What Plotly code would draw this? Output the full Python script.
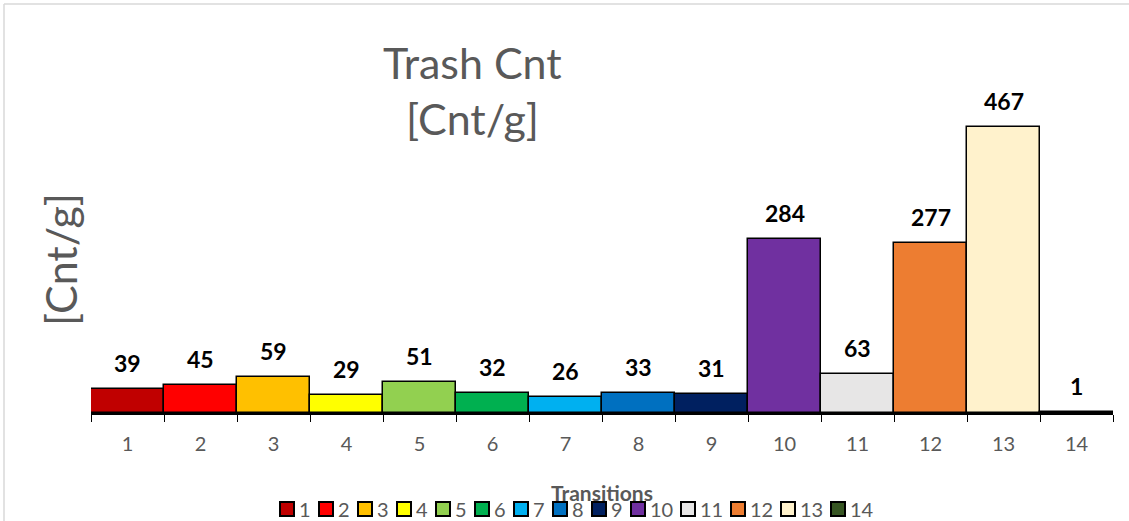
import plotly.graph_objects as go

# Trash count per transition
categories = ["1", "2", "3", "4", "5", "6", "7", "8", "9", "10", "11", "12", "13", "14"]
trash_cnt = [39, 45, 59, 29, 51, 32, 26, 33, 31, 284, 63, 277, 467, 1]
bar_colors = ["#C00000", "#FF0000", "#FFC000", "#FFFF00", "#92D050", "#00B050", "#00B0F0",
              "#0070C0", "#002060", "#7030A0", "#E7E6E6", "#ED7D31", "#FFF2CC", "#375623"]

W, H = 1129, 521
PLOT_L, PLOT_R, PLOT_T, PLOT_B = 91, 1113, 107, 413
Y_MAX = 500
FONT = "Lato, Open Sans, DejaVu Sans, sans-serif"
GRAY = "#595959"


def px_x(px):
    return (px - PLOT_L) / (PLOT_R - PLOT_L)


def px_y(py):
    return (PLOT_B - py) / (PLOT_B - PLOT_T)


fig = go.Figure()
fig.add_trace(go.Bar(
    x=categories, y=trash_cnt, width=1,
    marker=dict(color=bar_colors, line=dict(color="#000000", width=1.5)),
    showlegend=False, hoverinfo="x+y",
))

annotations = []
# value labels above each bar (x given as category index)
for i, v in enumerate(trash_cnt):
    annotations.append(dict(
        x=i, y=v, xref="x", yref="y", text=f"<b>{v}</b>", showarrow=False,
        yanchor="bottom", yshift=10, font=dict(family=FONT, size=23, color="#000000"),
    ))

# chart title (two lines)
annotations.append(dict(x=px_x(472), y=px_y(62), xref="paper", yref="paper", text="Trash Cnt",
                        showarrow=False, xanchor="center", yanchor="middle",
                        font=dict(family=FONT, size=43, color=GRAY)))
annotations.append(dict(x=px_x(472), y=px_y(119), xref="paper", yref="paper", text="[Cnt/g]",
                        showarrow=False, xanchor="center", yanchor="middle",
                        font=dict(family=FONT, size=43, color=GRAY)))
# y-axis title
annotations.append(dict(x=px_x(60), y=px_y(260), xref="paper", yref="paper", text="[Cnt/g]",
                        showarrow=False, xanchor="center", yanchor="middle", textangle=-90,
                        font=dict(family=FONT, size=43, color=GRAY)))
# x-axis title
annotations.append(dict(x=px_x(602), y=px_y(492), xref="paper", yref="paper", text="<b>Transitions</b>",
                        showarrow=False, xanchor="center", yanchor="middle",
                        font=dict(family=FONT, size=21, color=GRAY)))

shapes = []
# legend row: colored squares with labels
BOX = 14
lx = 280
ly = 509
for c, col in zip(categories, bar_colors):
    shapes.append(dict(type="rect", xref="paper", yref="paper",
                       x0=px_x(lx), x1=px_x(lx + BOX), y0=px_y(ly + BOX / 2), y1=px_y(ly - BOX / 2),
                       fillcolor=col, line=dict(color="#000000", width=2)))
    annotations.append(dict(x=px_x(lx + BOX + 3), y=px_y(ly), xref="paper", yref="paper", text=c,
                            showarrow=False, xanchor="left", yanchor="middle",
                            font=dict(family=FONT, size=20, color=GRAY)))
    lx += 39 if len(c) == 1 else 50

# chart frame (left and top edges)
shapes.append(dict(type="line", xref="paper", yref="paper", x0=px_x(4), x1=px_x(4),
                   y0=px_y(4), y1=px_y(530), line=dict(color="#D9D9D9", width=1.5)))
shapes.append(dict(type="line", xref="paper", yref="paper", x0=px_x(4), x1=px_x(1135),
                   y0=px_y(4), y1=px_y(4), line=dict(color="#D9D9D9", width=1.5)))

fig.update_layout(
    width=W, height=H,
    margin=dict(l=PLOT_L, r=W - PLOT_R, t=PLOT_T, b=H - PLOT_B, pad=0),
    paper_bgcolor="#FFFFFF", plot_bgcolor="#FFFFFF",
    bargap=0, showlegend=False,
    annotations=annotations, shapes=shapes,
    xaxis=dict(type="category", range=[-0.5, len(categories) - 0.5],
               showline=True, linecolor="#000000", linewidth=1.5,
               ticks="outside", tickson="boundaries", ticklen=7, tickcolor="#000000", tickwidth=1.2,
               ticklabelstandoff=12,
               tickfont=dict(family=FONT, size=20, color=GRAY), showgrid=False, zeroline=False),
    yaxis=dict(range=[0, Y_MAX], visible=False, showgrid=False, zeroline=False),
)

fig.write_html("out.html")
